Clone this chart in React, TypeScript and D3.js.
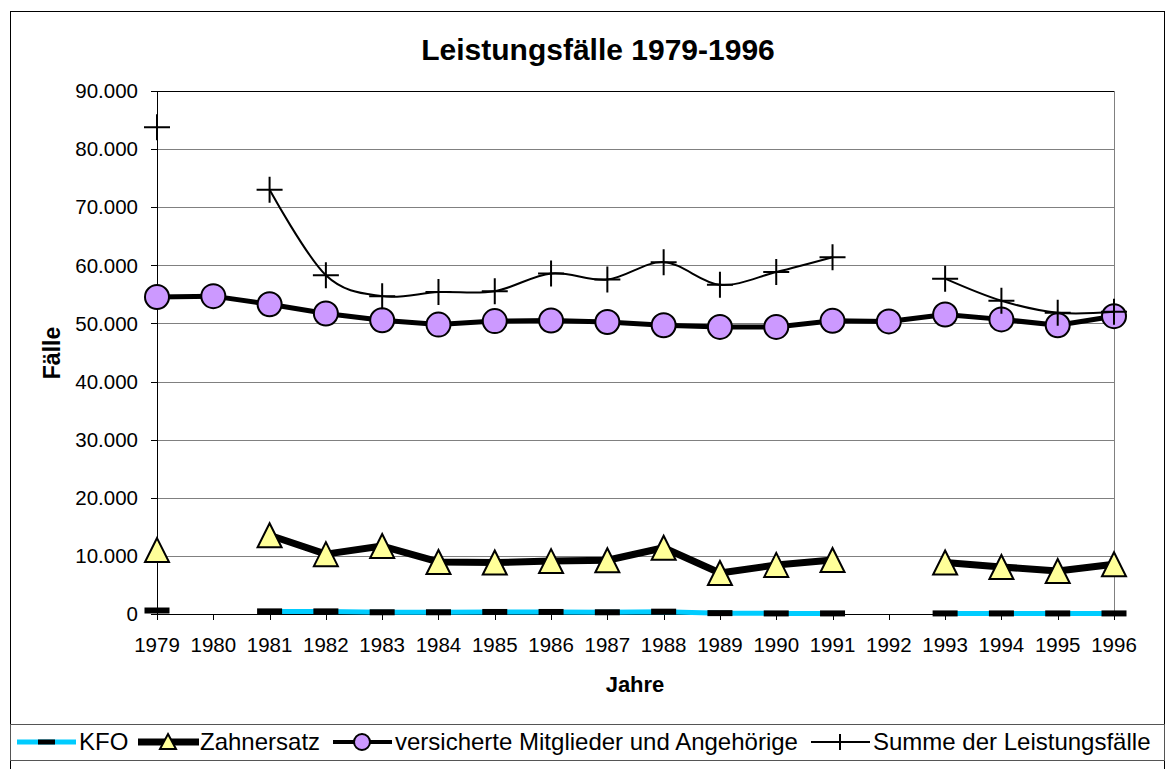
import React, { useRef, useEffect } from "react";
import { select, scaleLinear, scalePoint, line, curveCardinal, curveLinear, formatLocale } from "d3";

// Leistungsfälle 1979-1996, values
const years = [
  "1979", "1980", "1981", "1982", "1983", "1984", "1985", "1986", "1987",
  "1988", "1989", "1990", "1991", "1992", "1993", "1994", "1995", "1996",
];
const kfo = [600, null, 450, 450, 300, 300, 350, 350, 300, 400, 150, 100, 100, null, 100, 100, 100, 100];
const zahnersatz = [11000, null, 13550, 10300, 11700, 8950, 8850, 9100, 9250, 11400, 7050, 8450, 9300, null, 8850, 8100, 7400, 8550];
const versicherte = [54550, 54700, 53300, 51700, 50550, 49800, 50400, 50500, 50250, 49700, 49400, 49400, 50450, 50350, 51550, 50700, 49700, 51250];
const summe = [83750, null, 73000, 58300, 54700, 55400, 55550, 58600, 57550, 60550, 56650, 58850, 61400, null, 57700, 53900, 51850, 52000];
const yTicks = [0, 10000, 20000, 30000, 40000, 50000, 60000, 70000, 80000, 90000];

const legendItems = ["KFO", "Zahnersatz", "versicherte Mitglieder und Angehörige", "Summe der Leistungsfälle"];

const FONT = "'Liberation Sans', Arial, sans-serif";
const de = formatLocale({ decimal: ",", thousands: ".", grouping: [3], currency: ["", " €"] });
const fmt = de.format(",d");

function LeistungsChart() {
  const svgRef = useRef<SVGSVGElement>(null);

  useEffect(() => {
    const svg = select(svgRef.current);
    svg.selectAll("*").remove();

    const left = 157, right = 1114, top = 91, bottom = 614;
    const x = scalePoint().domain(years).range([left, right]);
    const y = scaleLinear().domain([0, 90000]).range([bottom, top]);

    // outer frame
    svg.append("rect").attr("x", 10.5).attr("y", 11.5).attr("width", 1154).attr("height", 780)
      .attr("fill", "white").attr("stroke", "black");

    svg.append("text").attr("x", 598).attr("y", 60).attr("text-anchor", "middle")
      .attr("font-family", FONT).attr("font-weight", "bold").attr("font-size", 30)
      .text("Leistungsfälle 1979-1996");

    // grid
    svg.append("g").selectAll("line").data(yTicks.slice(1, -1)).join("line")
      .attr("x1", left).attr("x2", right)
      .attr("y1", (d) => Math.round(y(d)) + 0.5).attr("y2", (d) => Math.round(y(d)) + 0.5)
      .attr("stroke", "#808080");
    svg.append("line").attr("x1", right + 0.5).attr("x2", right + 0.5).attr("y1", top).attr("y2", bottom)
      .attr("stroke", "#808080");
    svg.append("line").attr("x1", left).attr("x2", right).attr("y1", top + 0.5).attr("y2", top + 0.5)
      .attr("stroke", "black");

    // y axis
    const ya = svg.append("g");
    ya.append("line").attr("x1", left + 0.5).attr("x2", left + 0.5).attr("y1", top).attr("y2", bottom + 6).attr("stroke", "black");
    ya.selectAll("line.t").data(yTicks).join("line").attr("class", "t")
      .attr("x1", left - 6).attr("x2", left)
      .attr("y1", (d) => Math.round(y(d)) + 0.5).attr("y2", (d) => Math.round(y(d)) + 0.5)
      .attr("stroke", "black");
    ya.selectAll("text").data(yTicks).join("text")
      .attr("x", 138).attr("y", (d) => y(d)).attr("dy", "0.35em").attr("text-anchor", "end")
      .attr("font-family", FONT).attr("font-size", 20.5).text((d) => fmt(d));

    // x axis
    const xa = svg.append("g");
    xa.append("line").attr("x1", left).attr("x2", right).attr("y1", bottom + 0.5).attr("y2", bottom + 0.5).attr("stroke", "black");
    xa.selectAll("line.t").data(years).join("line").attr("class", "t")
      .attr("x1", (d) => Math.round(x(d)!) + 0.5).attr("x2", (d) => Math.round(x(d)!) + 0.5)
      .attr("y1", bottom).attr("y2", bottom + 6).attr("stroke", "black");
    xa.selectAll("text").data(years).join("text")
      .attr("x", (d) => x(d)!).attr("y", 652).attr("text-anchor", "middle")
      .attr("font-family", FONT).attr("font-size", 20.5).text((d) => d);

    svg.append("text").attr("x", 635).attr("y", 692).attr("text-anchor", "middle")
      .attr("font-family", FONT).attr("font-weight", "bold").attr("font-size", 22).text("Jahre");
    svg.append("text").attr("transform", "translate(60,353) rotate(-90)").attr("text-anchor", "middle")
      .attr("font-family", FONT).attr("font-weight", "bold").attr("font-size", 23).text("Fälle");

    const pts = (vals: (number | null)[]) => years.map((yr, i) => ({ yr, v: vals[i] }));
    const mkLine = (curve: any) =>
      line<{ yr: string; v: number | null }>()
        .defined((d) => d.v !== null)
        .x((d) => x(d.yr)!)
        .y((d) => y(d.v as number))
        .curve(curve);

    // KFO
    svg.append("path").attr("d", mkLine(curveLinear)(pts(kfo))).attr("fill", "none")
      .attr("stroke", "#00CCFF").attr("stroke-width", 5);
    svg.append("g").selectAll("rect").data(pts(kfo).filter((d) => d.v !== null)).join("rect")
      .attr("x", (d) => x(d.yr)! - 12.5).attr("y", (d) => y(d.v!) - 3).attr("width", 25).attr("height", 6)
      .attr("fill", "black");

    // Zahnersatz
    svg.append("path").attr("d", mkLine(curveLinear)(pts(zahnersatz))).attr("fill", "none")
      .attr("stroke", "black").attr("stroke-width", 7).attr("stroke-linejoin", "round");
    svg.append("g").selectAll("path").data(pts(zahnersatz).filter((d) => d.v !== null)).join("path")
      .attr("d", (d) => {
        const cx = x(d.yr)!, cy = y(d.v!);
        return `M${cx},${cy - 12}L${cx + 12},${cy + 12}L${cx - 12},${cy + 12}Z`;
      })
      .attr("fill", "#FFFF99").attr("stroke", "black").attr("stroke-width", 2);

    // versicherte Mitglieder und Angehörige
    svg.append("path").attr("d", mkLine(curveLinear)(pts(versicherte))).attr("fill", "none")
      .attr("stroke", "black").attr("stroke-width", 5);
    svg.append("g").selectAll("circle").data(pts(versicherte)).join("circle")
      .attr("cx", (d) => x(d.yr)!).attr("cy", (d) => y(d.v!)).attr("r", 12)
      .attr("fill", "#CC99FF").attr("stroke", "black").attr("stroke-width", 2);

    // Summe der Leistungsfälle (smoothed)
    svg.append("path").attr("d", mkLine(curveCardinal.tension(0))(pts(summe))).attr("fill", "none")
      .attr("stroke", "black").attr("stroke-width", 2);
    svg.append("g").selectAll("path").data(pts(summe).filter((d) => d.v !== null)).join("path")
      .attr("d", (d) => {
        const cx = x(d.yr)!, cy = y(d.v!);
        return `M${cx - 13},${cy}H${cx + 13}M${cx},${cy - 13}V${cy + 13}`;
      })
      .attr("stroke", "black").attr("stroke-width", 2);

    // legend
    const lg = svg.append("g");
    const ly = 742;
    lg.append("rect").attr("x", 10.5).attr("y", 724.5).attr("width", 1154).attr("height", 36)
      .attr("fill", "white").attr("stroke", "#555");
    const symX = [17, 138, 333, 811];
    lg.selectAll("text").data(legendItems).join("text")
      .attr("x", (d, i) => symX[i] + 62).attr("y", ly).attr("dy", "0.35em")
      .attr("font-family", FONT).attr("font-size", 24).text((d) => d);
    // KFO symbol
    lg.append("line").attr("x1", 17).attr("x2", 76).attr("y1", ly).attr("y2", ly).attr("stroke", "#00CCFF").attr("stroke-width", 5);
    lg.append("rect").attr("x", 38).attr("y", ly - 2.5).attr("width", 17).attr("height", 5).attr("fill", "black");
    // Zahnersatz symbol
    lg.append("line").attr("x1", 138).attr("x2", 199).attr("y1", ly).attr("y2", ly).attr("stroke", "black").attr("stroke-width", 7);
    lg.append("path").attr("d", `M168,${ly - 8}L176,${ly + 7}L160,${ly + 7}Z`).attr("fill", "#FFFF99").attr("stroke", "black").attr("stroke-width", 2);
    // versicherte symbol
    lg.append("line").attr("x1", 333).attr("x2", 392).attr("y1", ly).attr("y2", ly).attr("stroke", "black").attr("stroke-width", 4);
    lg.append("circle").attr("cx", 362).attr("cy", ly).attr("r", 8).attr("fill", "#CC99FF").attr("stroke", "black").attr("stroke-width", 2);
    // Summe symbol
    lg.append("line").attr("x1", 811).attr("x2", 870).attr("y1", ly).attr("y2", ly).attr("stroke", "black").attr("stroke-width", 2);
    lg.append("path").attr("d", `M832,${ly}H848M840,${ly - 8}V${ly + 8}`).attr("stroke", "black").attr("stroke-width", 2);
  }, []);

  return (
    <svg ref={svgRef} width={1176} height={769}
      style={{ position: "absolute", left: 0, top: 0, display: "block", background: "white" }} />
  );
}

export default function App() {
  return <LeistungsChart />;
}
